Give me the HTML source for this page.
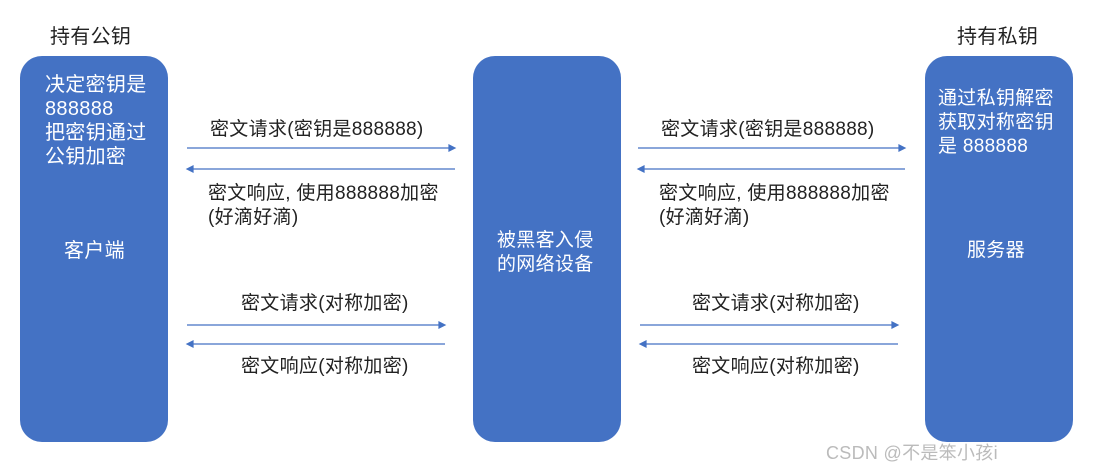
<!DOCTYPE html>
<html><head><meta charset="utf-8"><style>
body{margin:0;width:1096px;height:469px;background:#fff;position:relative;overflow:hidden;font-family:"Liberation Sans","Noto Sans CJK SC",sans-serif;}
.b{position:absolute;background:#4472C4;border-radius:22px;top:56px;height:386px;width:148px}
.t{position:absolute;font-size:19px;line-height:24px;white-space:nowrap;color:#222;letter-spacing:0.3px}
.w{color:#fff}
</style></head><body>
<div class="b" style="left:20px"></div>
<div class="b" style="left:473px"></div>
<div class="b" style="left:925px"></div>
<div class="t" style="left:50px;top:25px;font-size:20px">持有公钥</div>
<div class="t" style="left:957px;top:25px;font-size:20px">持有私钥</div>
<div class="t w" style="left:45px;top:73px;font-size:20px">决定密钥是<br>888888<br>把密钥通过<br>公钥加密</div>
<div class="t w" style="left:64px;top:239px;font-size:20px">客户端</div>
<div class="t w" style="left:497px;top:229px">被黑客入侵<br>的网络设备</div>
<div class="t w" style="left:938px;top:87px">通过私钥解密<br>获取对称密钥<br>是 888888</div>
<div class="t w" style="left:967px;top:239px">服务器</div>
<div class="t" style="left:210px;top:118px">密文请求(密钥是888888)</div>
<div class="t" style="left:208px;top:182px">密文响应, 使用888888加密<br>(好滴好滴)</div>
<div class="t" style="left:661px;top:118px">密文请求(密钥是888888)</div>
<div class="t" style="left:659px;top:182px">密文响应, 使用888888加密<br>(好滴好滴)</div>
<div class="t" style="left:241px;top:292px">密文请求(对称加密)</div>
<div class="t" style="left:241px;top:355px">密文响应(对称加密)</div>
<div class="t" style="left:692px;top:292px">密文请求(对称加密)</div>
<div class="t" style="left:692px;top:355px">密文响应(对称加密)</div>
<div class="t" style="left:826px;top:441px;color:#bbb;font-size:18px">CSDN @不是笨小孩i</div>
<svg width="1096" height="469" style="position:absolute;left:0;top:0">
<g stroke="#4472C4" stroke-width="1.2" fill="#4472C4">
<line x1="187" y1="148" x2="450" y2="148"/><path d="M455 148l-6-3v6z"/>
<line x1="192" y1="169" x2="455" y2="169"/><path d="M187 169l6-3v6z"/>
<line x1="638" y1="148" x2="900" y2="148"/><path d="M905 148l-6-3v6z"/>
<line x1="643" y1="169" x2="905" y2="169"/><path d="M638 169l6-3v6z"/>
<line x1="187" y1="325" x2="440" y2="325"/><path d="M445 325l-6-3v6z"/>
<line x1="192" y1="344" x2="445" y2="344"/><path d="M187 344l6-3v6z"/>
<line x1="640" y1="325" x2="893" y2="325"/><path d="M898 325l-6-3v6z"/>
<line x1="645" y1="344" x2="898" y2="344"/><path d="M640 344l6-3v6z"/>
</g></svg>
</body></html>
